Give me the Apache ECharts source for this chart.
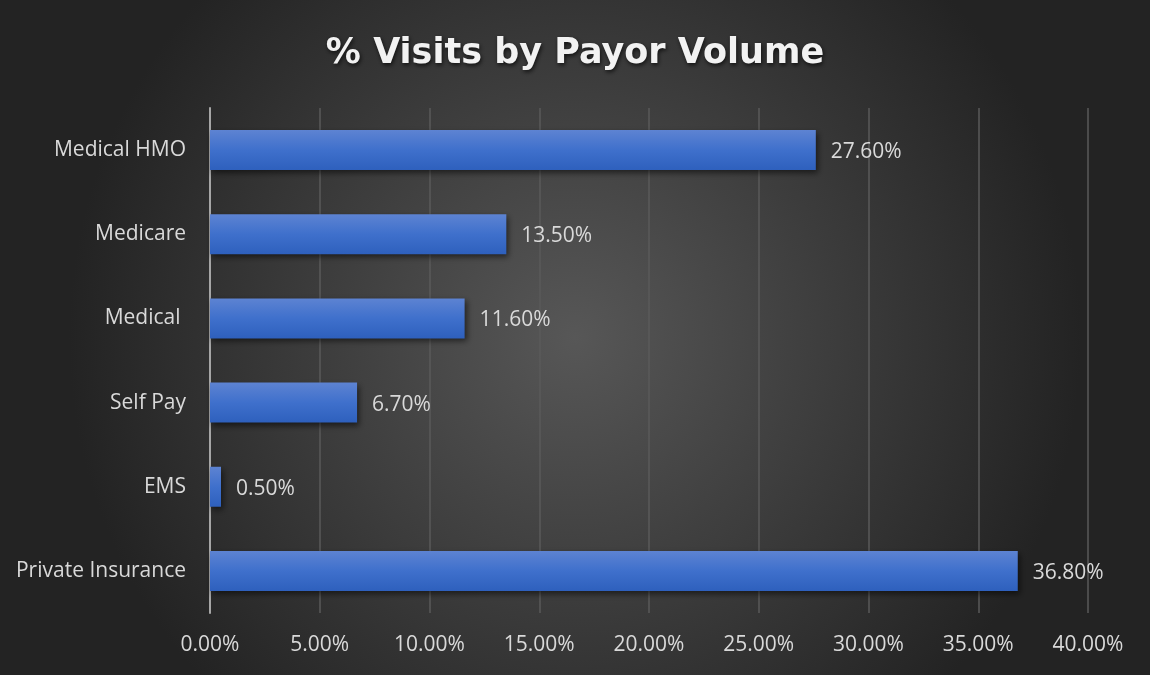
<!DOCTYPE html>
<html>
<head>
<meta charset="utf-8">
<script src="https://cdn.jsdelivr.net/npm/echarts@6/dist/echarts.min.js"></script>
<style>
html,body{margin:0;padding:0;background:#2a2a2a;}
#chart{width:1150px;height:675px;}
</style>
</head>
<body>
<div id="chart"></div>
<script>
const categories = ['Medical HMO', 'Medicare', 'Medical ', 'Self Pay', 'EMS', 'Private Insurance'];
const values = [27.6, 13.5, 11.6, 6.7, 0.5, 36.8];
const xTicks = { min: 0, max: 40, interval: 5 };
const titleText = '% Visits by Payor Volume';

const chart = echarts.init(document.getElementById('chart'));
const font = '"Open Sans", "Noto Sans", sans-serif';
chart.setOption({
  backgroundColor: {
    type: 'radial', x: 0.5, y: 0.5, r: 0.75,
    colorStops: [{offset: 0, color: '#575757'}, {offset: 1, color: '#232323'}]
  },
  title: {
    text: titleText,
    left: 'center',
    top: 31,
    textStyle: {
      color: '#f2f2f2', fontSize: 35, fontWeight: 'bold', fontFamily: '"DejaVu Sans", sans-serif',
      textShadowColor: 'rgba(0,0,0,0.7)', textShadowBlur: 4, textShadowOffsetX: 1, textShadowOffsetY: 2
    }
  },
  grid: { left: 210, right: 62, top: 108, bottom: 62, containLabel: false },
  xAxis: {
    type: 'value', min: xTicks.min, max: xTicks.max, interval: xTicks.interval,
    axisLine: { show: false }, axisTick: { show: false },
    splitLine: { show: true, lineStyle: { color: '#5a5a5a', width: 1.5 } },
    axisLabel: {
      color: '#d9d9d9', fontSize: 21, fontFamily: font, margin: 22,
      formatter: v => v.toFixed(2) + '%'
    }
  },
  yAxis: {
    type: 'category', data: categories, inverse: true,
    axisLine: { show: true, lineStyle: { color: '#a6a6a6', width: 2 } },
    axisTick: { show: false },
    axisLabel: { color: '#d9d9d9', fontSize: 21, fontFamily: font, margin: 24 }
  },
  series: [{
    type: 'bar', data: values, barWidth: 40,
    itemStyle: {
      color: { type: 'linear', x: 0, y: 0, x2: 0, y2: 1,
        colorStops: [{offset: 0, color: '#5d83d2'}, {offset: 0.5, color: '#3f70cc'}, {offset: 1, color: '#2e60bd'}] },
      shadowColor: 'rgba(0,0,0,0.55)', shadowBlur: 6, shadowOffsetX: 2, shadowOffsetY: 3
    },
    label: {
      show: true, position: 'right', distance: 15, offset: [0, 2],
      color: '#d9d9d9', fontSize: 21, fontFamily: font,
      formatter: p => p.value.toFixed(2) + '%'
    }
  }]
});
</script>
</body>
</html>
